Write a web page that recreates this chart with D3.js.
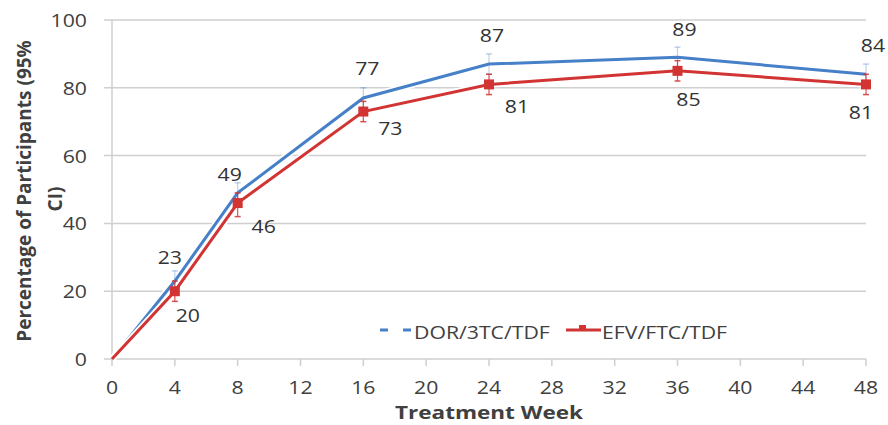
<!DOCTYPE html>
<html><head><meta charset="utf-8">
<script src="https://cdn.jsdelivr.net/npm/d3@7"></script>
<style>body{margin:0;background:#fff;}svg{display:block;font-family:"Open Sans",sans-serif;}</style>
</head><body><svg id="c" width="888" height="425"></svg>
<script>
const weeks = [0, 4, 8, 16, 24, 36, 48];
const dorValues = [0, 23, 49, 77, 87, 89, 84];
const efvValues = [0, 20, 46, 73, 81, 85, 81];
const efvLow = [0, 17, 42, 70, 78, 82, 78];
const efvHigh = [0, 23, 49, 76, 84, 88, 84];
const dorLow = [0, 20, 46, 74, 84, 86, 81];
const dorHigh = [0, 26, 52, 80, 90, 92, 87];
const xTicks = [0, 4, 8, 12, 16, 20, 24, 28, 32, 36, 40, 44, 48];
const yTicks = [0, 20, 40, 60, 80, 100];
const seriesNames = ["DOR/3TC/TDF", "EFV/FTC/TDF"];

const svg = d3.select("#c");
const x = d3.scaleLinear().domain([0, 48]).range([112, 866]);
const y = d3.scaleLinear().domain([0, 100]).range([359, 20]);
const txt = "#404040", grid = "#cfcfcf";
const blue = "#4680c8", red = "#d23434";

function htext(px, py, str, opts = {}) {
  return svg.append("text")
    .attr("transform", `translate(${px},${py}) scale(${opts.sx || 1.18},1)`)
    .attr("text-anchor", opts.anchor || "middle")
    .attr("font-size", opts.size || 18)
    .attr("font-weight", opts.weight || "normal")
    .attr("fill", opts.fill || txt).text(str);
}

// gridlines
svg.append("g").selectAll("line").data(yTicks).join("line")
  .attr("x1", 104).attr("x2", 866).attr("y1", d => y(d)).attr("y2", d => y(d))
  .attr("stroke", grid).attr("stroke-width", 1.5);
// y axis line
svg.append("line").attr("x1", x(0)).attr("x2", x(0)).attr("y1", y(100)).attr("y2", y(0))
  .attr("stroke", grid).attr("stroke-width", 1.5);
// x ticks
svg.append("g").selectAll("line").data(xTicks).join("line")
  .attr("x1", d => x(d)).attr("x2", d => x(d)).attr("y1", y(0)).attr("y2", y(0) + 7)
  .attr("stroke", grid).attr("stroke-width", 1.5);
// tick labels
yTicks.forEach(d => htext(87, y(d) + 7, d, { anchor: "end" }));
xTicks.forEach(d => htext(x(d), 394, d));
// axis titles
htext(x(24), 419, "Treatment Week", { size: 18, weight: "bold", sx: 1.25 });
svg.append("text").attr("transform", "translate(31,191) rotate(-90)")
  .attr("text-anchor", "middle").attr("font-size", 19).attr("font-weight", "bold").attr("fill", txt)
  .text("Percentage of Participants (95%");
svg.append("text").attr("transform", "translate(62,199) rotate(-90)")
  .attr("text-anchor", "middle").attr("font-size", 19).attr("font-weight", "bold").attr("fill", txt)
  .text("CI)");

function draw(vals, lo, hi, color, marker) {
  const pts = weeks.map((w, i) => [x(w), y(vals[i])]);
  const line = d3.line();
  svg.append("path").attr("d", line(pts)).attr("fill", "none").attr("stroke", "#fff").attr("stroke-width", 6.5);
  svg.append("path").attr("d", line(pts)).attr("fill", "none").attr("stroke", color).attr("stroke-width", 3);
  const g = svg.append("g");
  weeks.forEach((w, i) => {
    if (i === 0) return;
    const cx = x(w);
    const op = marker ? 0.85 : 0.35;
    g.append("line").attr("x1", cx).attr("x2", cx).attr("y1", y(lo[i])).attr("y2", y(hi[i]))
      .attr("stroke", color).attr("stroke-width", 1.2).attr("opacity", op);
    [lo[i], hi[i]].forEach(v => g.append("line").attr("x1", cx - 3).attr("x2", cx + 3)
      .attr("y1", y(v)).attr("y2", y(v)).attr("stroke", color).attr("stroke-width", 1.5).attr("opacity", op));
    if (marker) g.append("rect").attr("x", cx - 5).attr("y", y(vals[i]) - 5).attr("width", 10).attr("height", 10).attr("fill", color);
  });
}
draw(dorValues, dorLow, dorHigh, blue, false);
draw(efvValues, efvLow, efvHigh, red, true);

// data labels (offsets of label baseline from point)
const dorOff = [null, [-5, -17], [-8, -12], [4, -23], [3, -22], [7, -21], [7, -22]];
const efvOff = [null, [13, 31], [26, 30], [27, 23], [28, 29], [11, 35], [-5, 35]];
weeks.forEach((w, i) => {
  if (i === 0) return;
  htext(x(w) + dorOff[i][0], y(dorValues[i]) + dorOff[i][1], dorValues[i], { fill: "#333" });
  htext(x(w) + efvOff[i][0], y(efvValues[i]) + efvOff[i][1], efvValues[i], { fill: "#333" });
});

// legend
svg.append("line").attr("x1", 380).attr("x2", 413).attr("y1", 330).attr("y2", 330)
  .attr("stroke", blue).attr("stroke-width", 3).attr("stroke-dasharray", "8,15");
htext(414, 339, seriesNames[0], { anchor: "start" });
svg.append("line").attr("x1", 566).attr("x2", 601).attr("y1", 330).attr("y2", 330)
  .attr("stroke", red).attr("stroke-width", 3);
svg.append("rect").attr("x", 579).attr("y", 325).attr("width", 7).attr("height", 6).attr("fill", red);
htext(602, 339, seriesNames[1], { anchor: "start" });
</script></body></html>
